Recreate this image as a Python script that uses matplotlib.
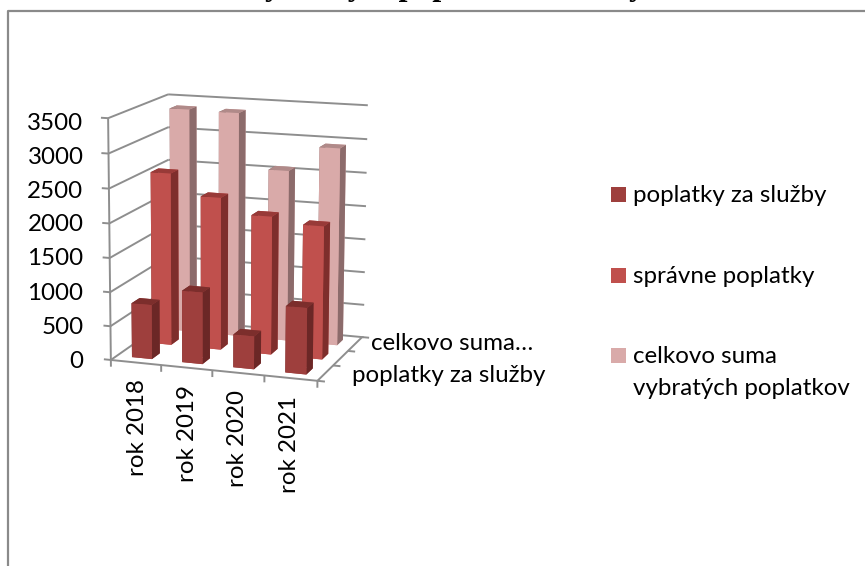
import numpy as np
import matplotlib
matplotlib.use('Agg')
import matplotlib.pyplot as plt

W, H = 865, 566

years = ['rok 2018', 'rok 2019', 'rok 2020', 'rok 2021']
series_names = ['poplatky za služby', 'správne poplatky', 'celkovo suma\nvybratých poplatkov']
depth_labels = ['poplatky za služby', 'celkovo suma…']
title = 'Vývin výše poplatkov za roky'
sluzby = [800, 1050, 480, 960]
spravne = [2565, 2260, 2040, 1955]
celkovo = [3380, 3370, 2560, 2940]
z_ticks = [0, 500, 1000, 1500, 2000, 2500, 3000, 3500]

# front, side, top
colors_sluzby = ['#9E3F3D', '#6B2726', '#7C2E2C']
colors_spravne = ['#C0504D', '#7E2E2C', '#983A38']
colors_celkovo = ['#D9AAA9', '#8C6B6B', '#B08A89']
grid_col = '#8E8E8E'
font = 'Lato'
fs = 17.4


def px(x, y):
    return x / W, 1 - y / H


fig = plt.figure(figsize=(W / 100, H / 100), dpi=100)

# title sits mostly above the top edge, only the descenders show
fig.text(*px(242, -5), title, ha='left', va='baseline', family='Liberation Serif',
         weight='bold', fontsize=23)

# outer frame, only left and top show
fig.add_artist(plt.Line2D([px(8, 0)[0], px(8, 0)[0], 1], [0, px(0, 10.5)[1], px(0, 10.5)[1]],
                          color='#8A8A8A', lw=1.6))

side = 351.6
ax = fig.add_axes([59.07 / W, 153.93 / H, side / W, side / H], projection='3d')
ax.set_proj_type('persp', focal_length=1.0226)
ax.view_init(elev=12.59, azim=-71.41, roll=-0.21)
ax.set_box_aspect((1.3035, 1, 1.4814))
ax.set_xlim(0, 4)
ax.set_ylim(0, 3)
ax.set_zlim(0, 3500)
ax.set_axis_off()
ax.patch.set_alpha(0)
ax.computed_zorder = False


def gline(xs, ys, zs):
    ax.plot(xs, ys, zs, color=grid_col, lw=1.4, zorder=1, solid_capstyle='butt')


# walls
for z in z_ticks:
    gline([0, 0], [0, 3], [z, z])
    gline([0, 4.03], [3, 3], [z, z])
    gline([-0.14, 0], [0, 0], [z, z])
gline([0, 0], [0, 0], [0, 3500])
gline([0, 4], [0, 0], [0, 0])
gline([4, 4], [0, 3], [0, 0])
for i in range(5):
    gline([i, i], [0, 0], [-100, 0])
for j in range(4):
    gline([4, 4.14], [j, j], [0, 0])

# bars, back row first
bar_w = 0.4
rows = [(2, celkovo, colors_celkovo), (1, spravne, colors_spravne), (0, sluzby, colors_sluzby)]
for j, vals, cols in rows:
    front, sidec, top = cols
    for i, v in enumerate(vals):
        # bar3d face order: bottom, top, front, back, left, right
        ax.bar3d(i + 0.3, j + 0.3, 0, bar_w, bar_w, v,
                 color=[front, top, front, front, sidec, sidec],
                 shade=False, zorder=10 - j + i * 0.1, linewidth=0)

# value axis labels
tick_label_y = [361, 327, 293, 259, 225, 191, 157, 123]
for z, y in zip(z_ticks, tick_label_y):
    fig.text(*px(83.5, y), str(z), ha='right', va='center', family=font, fontsize=fs)

# category labels
label_x = [138, 188, 238, 290]
label_top = [379, 385, 390, 396]
for name, x, y in zip(years, label_x, label_top):
    fig.text(*px(x, y), name, rotation=90, ha='center', va='top', family=font, fontsize=fs)

fig.text(*px(352, 376), depth_labels[0], ha='left', va='center', family=font, fontsize=fs)
fig.text(*px(371, 344), depth_labels[1], ha='left', va='center', family=font, fontsize=fs)

# legend
leg_y = [187, 268, 348]
leg_cols = [colors_sluzby[0], colors_spravne[0], colors_celkovo[0]]
for name, y, c in zip(series_names, leg_y, leg_cols):
    fig.add_artist(plt.Rectangle(px(611, y + 15), 15 / W, 15 / H, color=c, lw=0))
    fig.text(*px(633, y - 2), name, ha='left', va='top', family=font, fontsize=fs,
             linespacing=1.62)

fig.savefig('out.png', dpi=100)
